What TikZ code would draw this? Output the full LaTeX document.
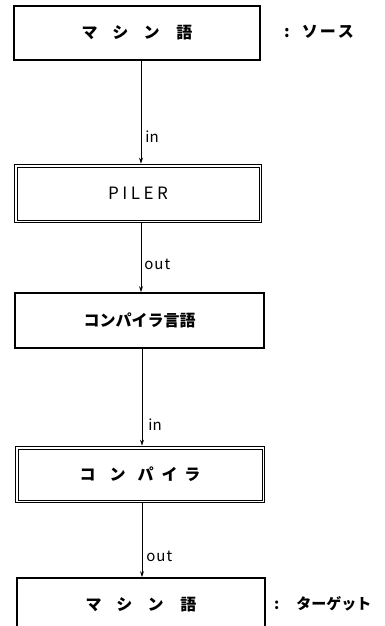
\documentclass[tikz,border=0pt]{standalone}
\usepackage{fontspec}
\setmainfont{Noto Sans CJK JP}
\usetikzlibrary{arrows.meta}
\begin{document}
\begin{tikzpicture}[x=1pt,y=-1pt,
  box/.style={draw=black, line width=1.8pt, inner sep=0pt, anchor=center},
  inner/.style={draw=black, line width=0.8pt},
  flow/.style={line width=0.8pt, -{Stealth[length=6pt,width=4pt]}},
  lab/.style={font=\fontsize{15}{15}\selectfont, anchor=west, inner sep=0pt},
  side/.style={font=\fontsize{16}{16}\selectfont\bfseries, anchor=west, inner sep=0pt}]
\useasboundingbox (0,0) rectangle (385,626);
\clip (0,0) rectangle (385,626);
\node[box, minimum width=246pt, minimum height=54pt, font=\fontsize{16}{16}\selectfont\bfseries] (b1) at (137,33)
  {マ\hspace{15pt}シ\hspace{15pt}ン\hspace{17pt}語};
\node[side] (s1) at (284,32) {:\hspace{12pt}ソ\hspace{2pt}ー\hspace{2pt}ス};
\node[box, minimum width=247pt, minimum height=58pt, font=\fontsize{17}{17}\selectfont] (b2) at (138,193.5)
  {P\hspace{3.5pt}I\hspace{3.5pt}L\hspace{3.5pt}E\hspace{3.5pt}R};
\draw[inner] ([shift={(3.5,3.5)}]b2.north west) rectangle ([shift={(-3.5,-3.5)}]b2.south east);
\node[box, minimum width=249pt, minimum height=55pt, font=\fontsize{16}{16}\selectfont\bfseries] (b3) at (139.5,320.5)
  {コンパイラ言語};
\node[box, minimum width=249pt, minimum height=56pt, font=\fontsize{16}{16}\selectfont\bfseries] (b4) at (140,474.5)
  {コ\hspace{14pt}ン\hspace{12pt}パ\hspace{8pt}イ\hspace{7pt}ラ};
\draw[inner] ([shift={(3.5,3.5)}]b4.north west) rectangle ([shift={(-3.5,-3.5)}]b4.south east);
\node[box, minimum width=248pt, minimum height=54pt, font=\fontsize{16}{16}\selectfont\bfseries] (b5) at (141,605)
  {マ\hspace{15pt}シ\hspace{15pt}ン\hspace{17pt}語};
\node[side, font=\fontsize{15}{15}\selectfont\bfseries] (s5) at (274,604) {:\hspace{17pt}ターゲット};
\draw[flow] ([xshift=4pt]b1.south) -- ([xshift=3pt]b2.north) node[lab, pos=0.74, xshift=4pt] (l1) {in};
\draw[flow] ([xshift=3pt]b2.south) -- ([xshift=1.5pt]b3.north) node[lab, pos=0.6, xshift=3pt] (l2) {o\hspace{1pt}u\hspace{1pt}t};
\draw[flow] ([xshift=2.5pt]b3.south) -- ([xshift=2pt]b4.north) node[lab, pos=0.78, xshift=6pt] (l3) {in};
\draw[flow] ([xshift=2pt]b4.south) -- ([xshift=1pt]b5.north) node[lab, pos=0.72, xshift=4pt] (l4) {o\hspace{1pt}u\hspace{1pt}t};
\end{tikzpicture}
\end{document}
